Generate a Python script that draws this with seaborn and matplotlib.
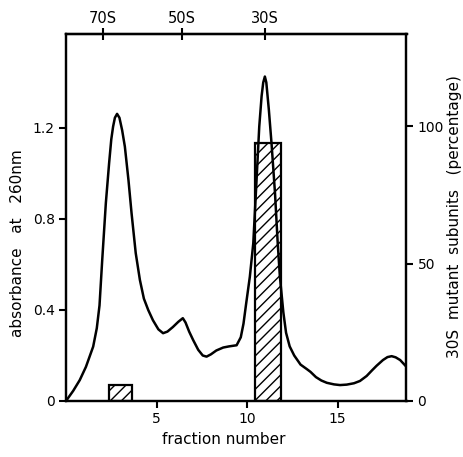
import numpy as np
import pandas as pd
import matplotlib
matplotlib.use("Agg")
import matplotlib.pyplot as plt
import seaborn as sns

# absorbance profile (fraction number, A260)
fraction = [0.0, 0.4, 0.76, 1.1, 1.5, 1.7, 1.85, 2.0, 2.2, 2.38, 2.5, 2.6, 2.7, 2.82,
            2.95, 3.1, 3.25, 3.45, 3.62, 3.85, 4.08, 4.3, 4.54, 4.8, 5.1, 5.36, 5.6,
            5.9, 6.2, 6.45, 6.6, 6.8, 7.02, 7.3, 7.55, 7.76, 8.0, 8.3, 8.68, 9.0, 9.42,
            9.65, 9.8, 9.95, 10.15, 10.34, 10.52, 10.67, 10.8, 10.89, 10.98, 11.06,
            11.2, 11.35, 11.54, 11.69, 11.81, 12.0, 12.15, 12.35, 12.6, 12.95, 13.3,
            13.5, 13.8, 14.1, 14.4, 14.8, 15.13, 15.5, 15.9, 16.23, 16.6, 16.9, 17.15,
            17.5, 17.75, 17.98, 18.2, 18.45, 18.8]
absorbance = [0.0, 0.045, 0.092, 0.15, 0.239, 0.32, 0.42, 0.62, 0.87, 1.045, 1.15, 1.206,
              1.245, 1.262, 1.245, 1.19, 1.118, 0.97, 0.825, 0.65, 0.532, 0.45, 0.40,
              0.355, 0.315, 0.298, 0.305, 0.325, 0.348, 0.364, 0.345, 0.305, 0.268,
              0.225, 0.2, 0.195, 0.205, 0.222, 0.235, 0.24, 0.245, 0.28, 0.34, 0.43,
              0.546, 0.693, 0.97, 1.206, 1.34, 1.40, 1.426, 1.40, 1.28, 1.13, 0.913,
              0.693, 0.546, 0.39, 0.3, 0.24, 0.2, 0.16, 0.14, 0.128, 0.105, 0.09, 0.08,
              0.073, 0.07, 0.072, 0.078, 0.088, 0.11, 0.135, 0.155, 0.18, 0.193, 0.197,
              0.192, 0.18, 0.15]

# mutant subunit bars (fraction ranges, percentage)
bar_start = [2.37, 10.43]
bar_end = [3.65, 11.85]
bar_pct = [6, 94]

# sedimentation markers
marker_pos = [2.06, 6.41, 10.97]
marker_labels = ["70S", "50S", "30S"]

x_ticks = [5, 10, 15]
y_ticks = [0, 0.4, 0.8, 1.2]
y_tick_labels = ["0", "0.4", "0.8", "1.2"]
y2_ticks = [0, 50, 100]

sns.set_style("ticks")
plt.rcParams["font.family"] = ["DejaVu Sans"]
plt.rcParams["hatch.linewidth"] = 1.0
plt.rcParams["text.color"] = "black"
plt.rcParams["axes.labelcolor"] = "black"
plt.rcParams["xtick.color"] = "black"
plt.rcParams["ytick.color"] = "black"

FS_TICK = 10
FS_LAB = 11
fig = plt.figure(figsize=(4.64, 4.57), dpi=100)
ax = fig.add_axes([66 / 464, 1 - 401 / 457, (406.5 - 66) / 464, (401 - 34) / 457])

df = pd.DataFrame({"fraction": fraction, "absorbance": absorbance})
sns.lineplot(data=df, x="fraction", y="absorbance", sort=False, color="black",
             linewidth=1.8, ax=ax)

ax.set_xlim(0, 18.8)
ax.set_ylim(0, 1.613)
ax.set_xticks(x_ticks)
ax.set_yticks(y_ticks)
ax.set_yticklabels(y_tick_labels)
ax.set_xlabel("fraction number", fontsize=FS_LAB)
ax.set_ylabel("absorbance   at   260nm", fontsize=FS_LAB)
ax.xaxis.set_label_coords(0.4625, -0.106, transform=ax.transAxes)
ax.yaxis.set_label_coords(-0.141, 0.43, transform=ax.transAxes)
for lab in (ax.xaxis.label, ax.yaxis.label):
    lab.set_verticalalignment("center")
ax.tick_params(axis="both", labelsize=FS_TICK, width=1.5, length=5, color="black",
               labelcolor="black", pad=3)

ax2 = ax.twinx()
widths = [e - s for s, e in zip(bar_start, bar_end)]
ax2.bar(bar_start, bar_pct, width=widths, align="edge", facecolor="white",
        edgecolor="black", hatch="///", linewidth=1.6, zorder=1)
ax2.set_ylim(0, 133.5)
ax2.set_yticks(y2_ticks)
ax2.set_ylabel("30S  mutant  subunits   (percentage)", fontsize=FS_LAB)
ax2.yaxis.set_label_coords(1.142, 0.503, transform=ax.transAxes)
ax2.yaxis.label.set_verticalalignment("center")
ax2.tick_params(axis="y", labelsize=FS_TICK, width=1.5, length=5, color="black",
                labelcolor="black", pad=3)
ax.set_zorder(ax2.get_zorder() + 1)
ax.patch.set_visible(False)

top = ax.secondary_xaxis("top")
top.set_xticks(marker_pos)
top.set_xticklabels(marker_labels)
top.tick_params(direction="inout", length=8, width=1.5, labelsize=10.5, pad=2,
                color="black", labelcolor="black")

for a in (ax, ax2):
    for sp in a.spines.values():
        sp.set_visible(True)
        sp.set_linewidth(1.6)
        sp.set_color("black")
top.spines["top"].set_linewidth(1.6)

fig.savefig("out.png", dpi=100)
